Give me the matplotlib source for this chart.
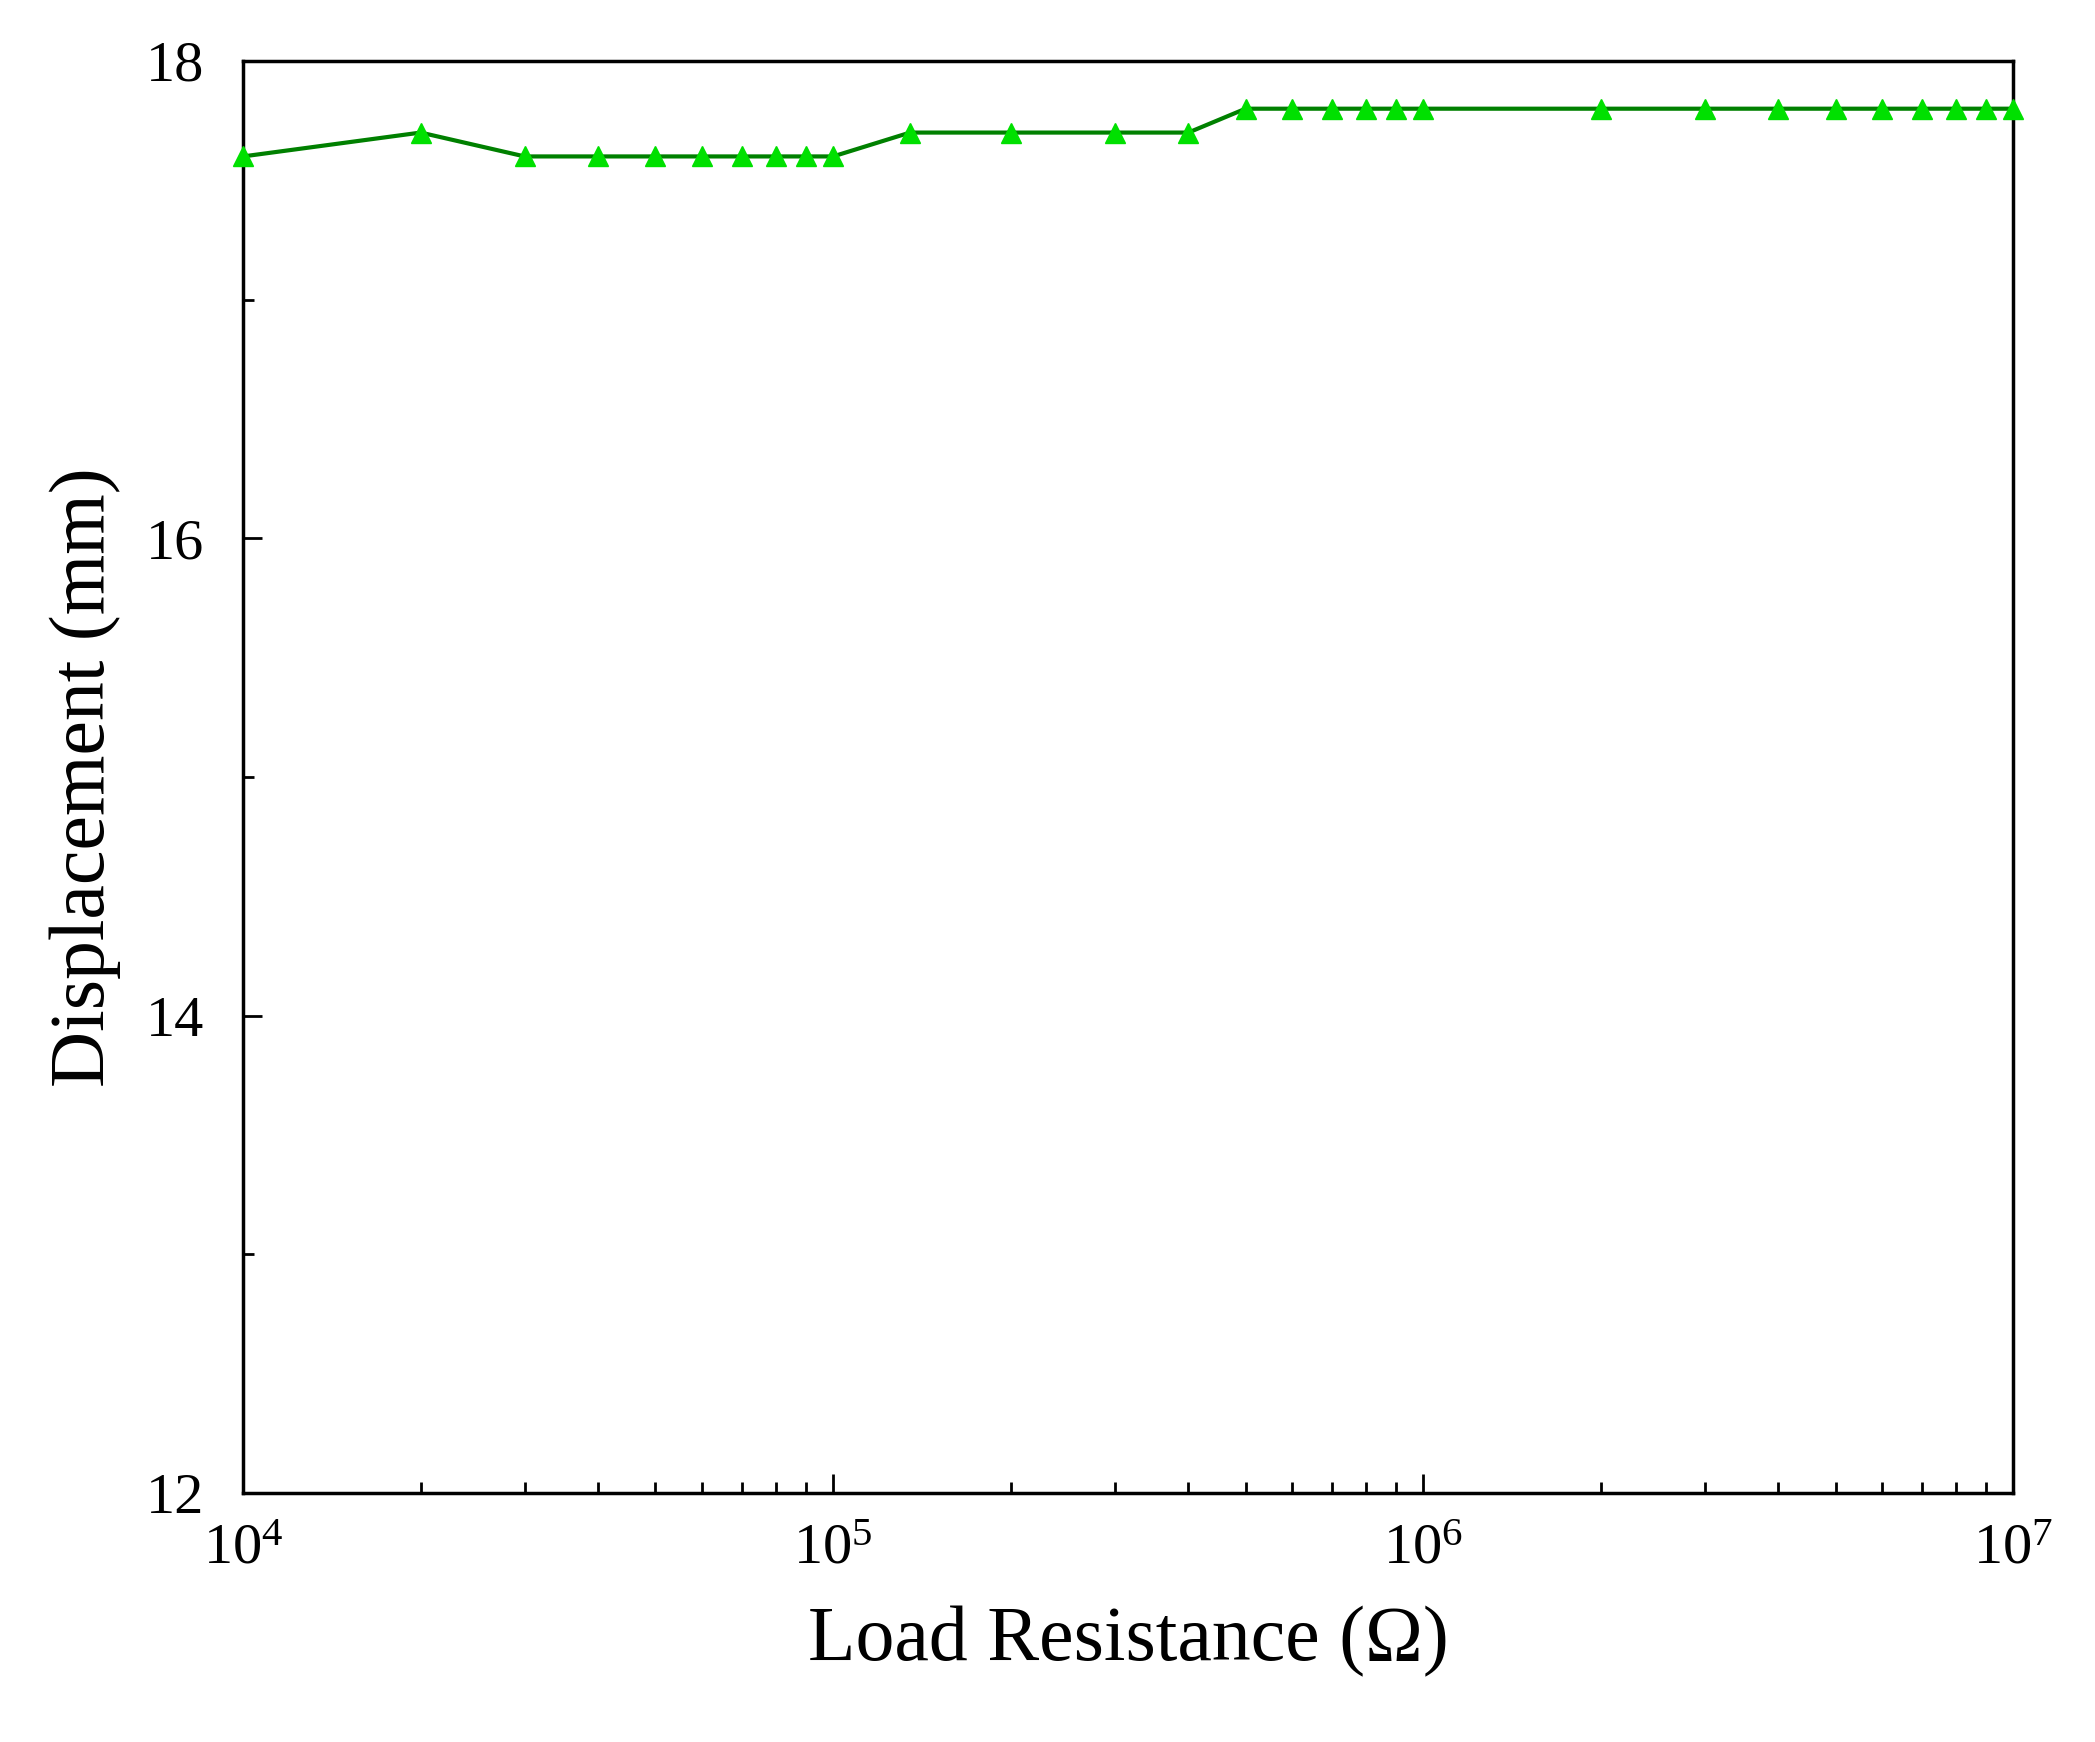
import matplotlib
matplotlib.use("Agg")
import matplotlib.pyplot as plt
from matplotlib.ticker import MultipleLocator, LogLocator

resistance = [1e4, 2e4, 3e4, 4e4, 5e4, 6e4, 7e4, 8e4, 9e4, 1e5, 1.35e5, 2e5, 3e5, 4e5,
              5e5, 6e5, 7e5, 8e5, 9e5, 1e6, 2e6, 3e6, 4e6, 5e6, 6e6, 7e6, 8e6, 9e6, 1e7]
displacement = [17.6, 17.7, 17.6, 17.6, 17.6, 17.6, 17.6, 17.6, 17.6, 17.6, 17.7, 17.7, 17.7, 17.7,
                17.8, 17.8, 17.8, 17.8, 17.8, 17.8, 17.8, 17.8, 17.8, 17.8, 17.8, 17.8, 17.8, 17.8, 17.8]

plt.rcParams['font.family'] = ['Liberation Serif', 'DejaVu Serif']
fig = plt.figure(figsize=(20.95, 17.42), dpi=100)
ax = fig.add_axes([0.116, 0.143, 0.845, 0.822])
ax.plot(resistance, displacement, color='#008000', lw=3, marker='^', ms=15,
        markerfacecolor='#00e000', markeredgecolor='#00e000', clip_on=False, zorder=3)
ax.set_xscale('log')
ax.set_xlim(1e4, 1e7)
ax.set_ylim(12, 18)
ax.yaxis.set_major_locator(MultipleLocator(2))
ax.yaxis.set_minor_locator(MultipleLocator(1))
ax.xaxis.set_minor_locator(LogLocator(subs=range(2, 10)))
ax.tick_params(which='both', direction='in', top=False, right=False, labelsize=42, width=2)
ax.tick_params(which='major', length=14)
ax.tick_params(which='minor', length=8)
ax.tick_params(axis='x', pad=22)
ax.tick_params(axis='y', pad=28)
for s in ax.spines.values():
    s.set_linewidth(2.5)
ax.set_xlabel('Load Resistance (Ω)', fontsize=56, labelpad=22)
ax.set_ylabel('Displacement (mm)', fontsize=56, labelpad=18)
fig.savefig('out.png', dpi=100)
